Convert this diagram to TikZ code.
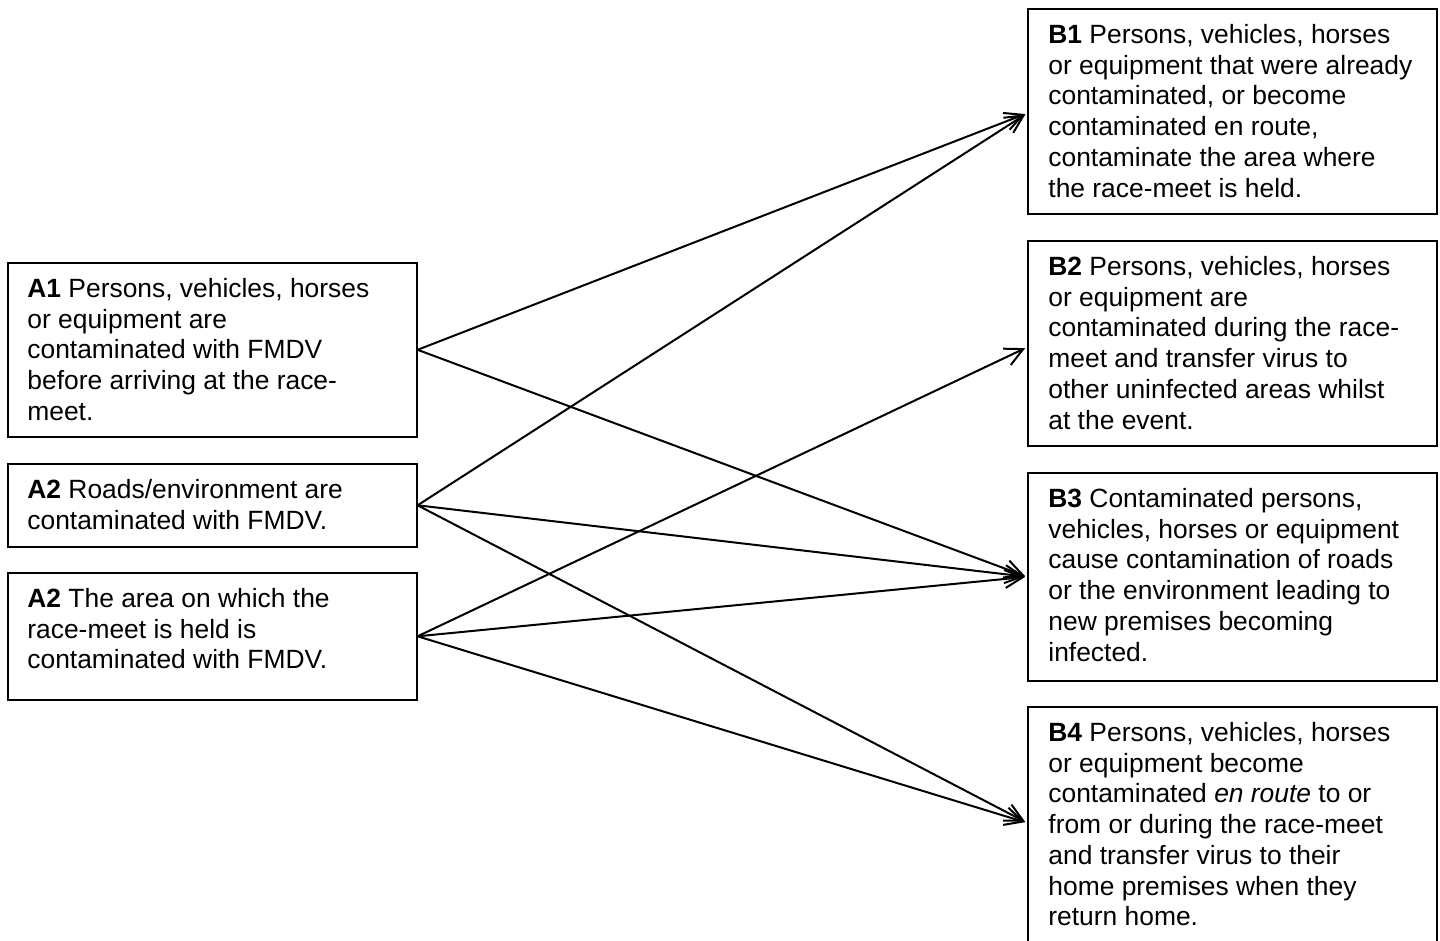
\documentclass[tikz,border=0pt]{standalone}
\usepackage{fontspec}
\setmainfont{Liberation Sans}
\usetikzlibrary{arrows.meta}
\begin{document}
\begin{tikzpicture}[x=0.5pt,y=-0.5pt,
  box/.style={draw, line width=0.8pt, rectangle, anchor=north west, minimum width=204.5pt, inner sep=0pt},
  txt/.style={anchor=north west, inner sep=0pt, align=left, font=\fontsize{13.2}{15.35}\selectfont},
  link/.style={line width=1pt, -{Straight Barb[length=9pt,width=9pt]}, shorten >=1pt}]
\clip (0,0) rectangle (1440,941);
% left boxes
\node[box, minimum height=87pt]   (A1)  at (7,262) {};
\node[box, minimum height=41.5pt] (A2a) at (7,463) {};
\node[box, minimum height=63.5pt] (A2b) at (7,572) {};
% right boxes
\node[box, minimum height=102.5pt] (B1) at (1027,8) {};
\node[box, minimum height=102.5pt] (B2) at (1027,240) {};
\node[box, minimum height=104pt]   (B3) at (1027,472) {};
\node[box, minimum height=120pt]   (B4) at (1027,706) {};
% texts
\node[txt] (tA1) at ([xshift=10pt,yshift=-8pt]A1.north west)
  {\textbf{A1} Persons, vehicles, horses\\or equipment are\\contaminated with FMDV\\before arriving at the race-\\meet.};
\node[txt] (tA2a) at ([xshift=10pt,yshift=-8pt]A2a.north west)
  {\textbf{A2} Roads/environment are\\contaminated with FMDV.};
\node[txt] (tA2b) at ([xshift=10pt,yshift=-8pt]A2b.north west)
  {\textbf{A2} The area on which the\\race-meet is held is\\contaminated with FMDV.};
\node[txt] (tB1) at ([xshift=10.5pt,yshift=-8pt]B1.north west)
  {\textbf{B1} Persons, vehicles, horses\\or equipment that were already\\contaminated, or become\\contaminated en route,\\contaminate the area where\\the race-meet is held.};
\node[txt] (tB2) at ([xshift=10.5pt,yshift=-8pt]B2.north west)
  {\textbf{B2} Persons, vehicles, horses\\or equipment are\\contaminated during the race-\\meet and transfer virus to\\other uninfected areas whilst\\at the event.};
\node[txt] (tB3) at ([xshift=10.5pt,yshift=-8pt]B3.north west)
  {\textbf{B3} Contaminated persons,\\vehicles, horses or equipment\\cause contamination of roads\\or the environment leading to\\new premises becoming\\infected.};
\node[txt] (tB4) at ([xshift=10.5pt,yshift=-8pt]B4.north west)
  {\textbf{B4} Persons, vehicles, horses\\or equipment become\\contaminated \textit{en route} to or\\from or during the race-meet\\and transfer virus to their\\home premises when they\\return home.};
% connectors
\draw[link] (A1.east)  -- ([yshift=-1pt]B1.west);
\draw[link] (A1.east)  -- (B3.west);
\draw[link] (A2a.east) -- ([yshift=-1pt]B1.west);
\draw[link] (A2a.east) -- (B3.west);
\draw[link] (A2a.east) -- ([yshift=2pt]B4.west);
\draw[link] (A2b.east) -- ([yshift=-2pt]B2.west);
\draw[link] (A2b.east) -- (B3.west);
\draw[link] (A2b.east) -- ([yshift=2pt]B4.west);
\end{tikzpicture}
\end{document}
